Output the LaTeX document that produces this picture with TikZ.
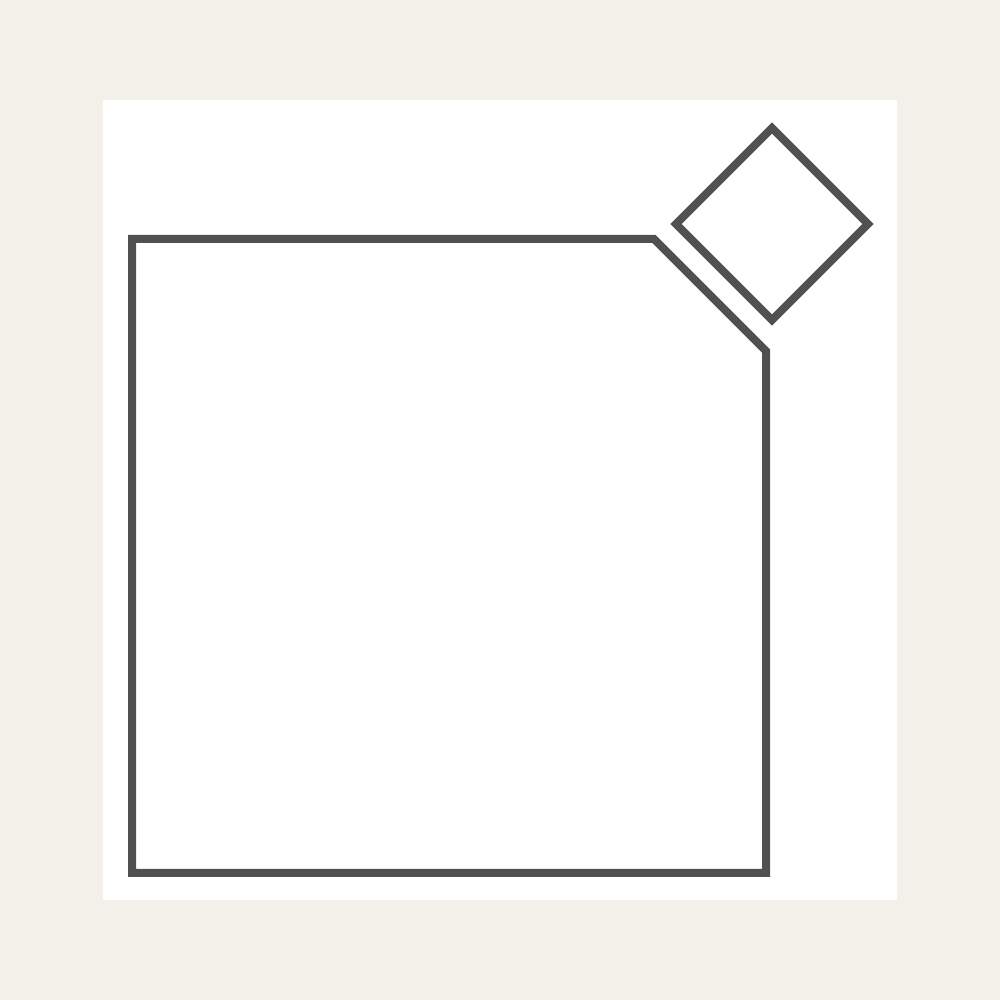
\documentclass[tikz,border=0pt]{standalone}
\usepackage{tikz}

\definecolor{paper}{HTML}{F3F0EA}
\definecolor{ink}{HTML}{505050}

\begin{document}
\begin{tikzpicture}[x=1pt,y=1pt,outline/.style={draw=ink,line width=8pt,line join=miter,fill=white}]

\fill[paper](0,0)rectangle(1000,1000);
\fill[white](103,100)rectangle(897,900);
\useasboundingbox(0,0)rectangle(1000,1000);

% big square with cut corner
\draw[outline](132,127)--(132,761)--(654,761)--(766,649)--(766,127)--cycle;

% small square turned on its corner
\draw[outline](772,872)--(868,776)--(772,680)--(676,776)--cycle;

\end{tikzpicture}
\end{document}
